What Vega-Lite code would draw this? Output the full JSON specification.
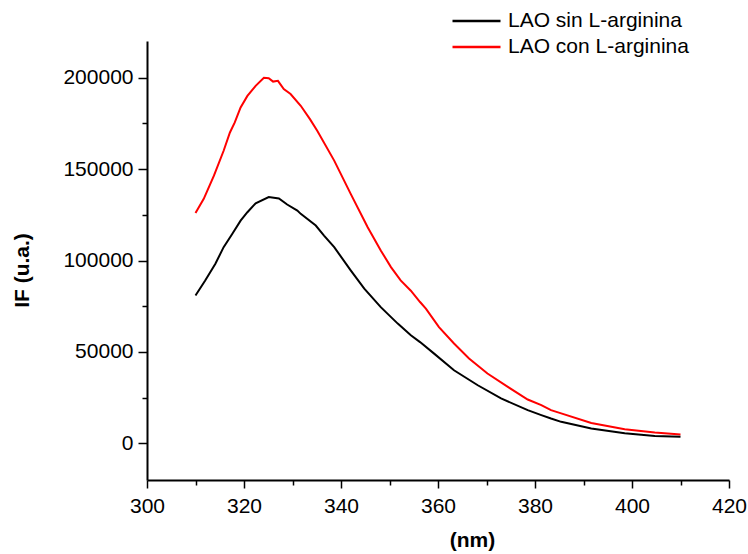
{
  "$schema": "https://vega.github.io/schema/vega-lite/v6.json",
  "width": 582,
  "height": 439,
  "autosize": "none",
  "padding": {"left": 147, "top": 41, "right": 19, "bottom": 74},
  "background": "white",
  "config": {
    "view": {"stroke": null},
    "font": "Liberation Sans",
    "axis": {"grid": false, "domainColor": "black", "tickColor": "black", "labelColor": "black", "titleColor": "black", "labelFont": "Liberation Sans", "titleFont": "Liberation Sans"}
  },
  "data": {"values": [
    {"nm": 310.0, "IF": 126000, "serie": "LAO con L-arginina"},
    {"nm": 311.7, "IF": 133700, "serie": "LAO con L-arginina"},
    {"nm": 313.8, "IF": 146400, "serie": "LAO con L-arginina"},
    {"nm": 315.8, "IF": 160000, "serie": "LAO con L-arginina"},
    {"nm": 317.1, "IF": 170000, "serie": "LAO con L-arginina"},
    {"nm": 318.1, "IF": 175500, "serie": "LAO con L-arginina"},
    {"nm": 319.3, "IF": 183700, "serie": "LAO con L-arginina"},
    {"nm": 320.7, "IF": 190000, "serie": "LAO con L-arginina"},
    {"nm": 322.4, "IF": 195500, "serie": "LAO con L-arginina"},
    {"nm": 324.1, "IF": 199900, "serie": "LAO con L-arginina"},
    {"nm": 325.1, "IF": 199700, "serie": "LAO con L-arginina"},
    {"nm": 326.0, "IF": 197800, "serie": "LAO con L-arginina"},
    {"nm": 327.0, "IF": 198200, "serie": "LAO con L-arginina"},
    {"nm": 328.2, "IF": 193700, "serie": "LAO con L-arginina"},
    {"nm": 329.6, "IF": 191000, "serie": "LAO con L-arginina"},
    {"nm": 331.7, "IF": 184600, "serie": "LAO con L-arginina"},
    {"nm": 333.6, "IF": 177300, "serie": "LAO con L-arginina"},
    {"nm": 335.1, "IF": 170900, "serie": "LAO con L-arginina"},
    {"nm": 338.6, "IF": 154600, "serie": "LAO con L-arginina"},
    {"nm": 342.0, "IF": 136400, "serie": "LAO con L-arginina"},
    {"nm": 345.5, "IF": 118200, "serie": "LAO con L-arginina"},
    {"nm": 348.2, "IF": 105500, "serie": "LAO con L-arginina"},
    {"nm": 350.3, "IF": 96400, "serie": "LAO con L-arginina"},
    {"nm": 352.3, "IF": 89100, "serie": "LAO con L-arginina"},
    {"nm": 354.4, "IF": 83500, "serie": "LAO con L-arginina"},
    {"nm": 356.3, "IF": 77300, "serie": "LAO con L-arginina"},
    {"nm": 357.5, "IF": 73700, "serie": "LAO con L-arginina"},
    {"nm": 360.2, "IF": 63600, "serie": "LAO con L-arginina"},
    {"nm": 363.3, "IF": 54600, "serie": "LAO con L-arginina"},
    {"nm": 366.4, "IF": 46400, "serie": "LAO con L-arginina"},
    {"nm": 370.2, "IF": 38200, "serie": "LAO con L-arginina"},
    {"nm": 374.4, "IF": 30900, "serie": "LAO con L-arginina"},
    {"nm": 378.5, "IF": 24000, "serie": "LAO con L-arginina"},
    {"nm": 381.3, "IF": 20900, "serie": "LAO con L-arginina"},
    {"nm": 383.3, "IF": 18200, "serie": "LAO con L-arginina"},
    {"nm": 385.4, "IF": 16400, "serie": "LAO con L-arginina"},
    {"nm": 391.6, "IF": 11200, "serie": "LAO con L-arginina"},
    {"nm": 398.5, "IF": 7800, "serie": "LAO con L-arginina"},
    {"nm": 404.7, "IF": 6000, "serie": "LAO con L-arginina"},
    {"nm": 410.0, "IF": 4900, "serie": "LAO con L-arginina"},
    {"nm": 310.0, "IF": 80900, "serie": "LAO sin L-arginina"},
    {"nm": 312.0, "IF": 89100, "serie": "LAO sin L-arginina"},
    {"nm": 314.1, "IF": 98200, "serie": "LAO sin L-arginina"},
    {"nm": 315.8, "IF": 107300, "serie": "LAO sin L-arginina"},
    {"nm": 317.6, "IF": 114600, "serie": "LAO sin L-arginina"},
    {"nm": 319.3, "IF": 121800, "serie": "LAO sin L-arginina"},
    {"nm": 320.7, "IF": 126400, "serie": "LAO sin L-arginina"},
    {"nm": 322.4, "IF": 131300, "serie": "LAO sin L-arginina"},
    {"nm": 325.1, "IF": 134700, "serie": "LAO sin L-arginina"},
    {"nm": 327.2, "IF": 133900, "serie": "LAO sin L-arginina"},
    {"nm": 328.9, "IF": 130600, "serie": "LAO sin L-arginina"},
    {"nm": 331.0, "IF": 127300, "serie": "LAO sin L-arginina"},
    {"nm": 331.7, "IF": 125500, "serie": "LAO sin L-arginina"},
    {"nm": 334.8, "IF": 119100, "serie": "LAO sin L-arginina"},
    {"nm": 336.5, "IF": 113600, "serie": "LAO sin L-arginina"},
    {"nm": 338.6, "IF": 107300, "serie": "LAO sin L-arginina"},
    {"nm": 342.0, "IF": 94600, "serie": "LAO sin L-arginina"},
    {"nm": 344.8, "IF": 84600, "serie": "LAO sin L-arginina"},
    {"nm": 348.2, "IF": 74500, "serie": "LAO sin L-arginina"},
    {"nm": 351.7, "IF": 65500, "serie": "LAO sin L-arginina"},
    {"nm": 354.4, "IF": 59100, "serie": "LAO sin L-arginina"},
    {"nm": 356.3, "IF": 55400, "serie": "LAO sin L-arginina"},
    {"nm": 359.2, "IF": 49100, "serie": "LAO sin L-arginina"},
    {"nm": 363.3, "IF": 40000, "serie": "LAO sin L-arginina"},
    {"nm": 368.2, "IF": 31800, "serie": "LAO sin L-arginina"},
    {"nm": 373.0, "IF": 24600, "serie": "LAO sin L-arginina"},
    {"nm": 378.5, "IF": 18200, "serie": "LAO sin L-arginina"},
    {"nm": 381.3, "IF": 15500, "serie": "LAO sin L-arginina"},
    {"nm": 383.3, "IF": 13600, "serie": "LAO sin L-arginina"},
    {"nm": 385.4, "IF": 11800, "serie": "LAO sin L-arginina"},
    {"nm": 391.6, "IF": 8200, "serie": "LAO sin L-arginina"},
    {"nm": 398.5, "IF": 5500, "serie": "LAO sin L-arginina"},
    {"nm": 404.7, "IF": 4100, "serie": "LAO sin L-arginina"},
    {"nm": 410.0, "IF": 3600, "serie": "LAO sin L-arginina"}
  ]},
  "layer": [
    {
      "mark": {"type": "point", "opacity": 0},
      "encoding": {
        "x": {"field": "nm", "type": "quantitative", "scale": {"domain": [300, 420], "nice": false, "zero": false},
          "axis": {"orient": "bottom", "values": [310, 330, 350, 370, 390, 410], "labels": false, "domain": false, "tickSize": 5, "tickWidth": 1.5, "title": null}},
        "y": {"field": "IF", "type": "quantitative", "scale": {"domain": [-20000, 220000], "nice": false, "zero": false},
          "axis": {"orient": "left", "values": [25000, 75000, 125000, 175000], "labels": false, "domain": false, "tickSize": 5, "tickWidth": 1.5, "title": null}}
      }
    },
    {
      "mark": {"type": "line", "strokeWidth": 2},
      "encoding": {
        "x": {"field": "nm", "type": "quantitative", "scale": {"domain": [300, 420], "nice": false, "zero": false},
          "axis": {"orient": "bottom", "values": [300, 320, 340, 360, 380, 400, 420], "format": "d", "domainWidth": 2, "tickWidth": 1.5, "tickSize": 8, "labelPadding": 7, "labelFontSize": 21, "labelFlush": false,
            "title": "(nm)", "titleFontSize": 21, "titleFontWeight": "bold", "titleX": 325, "titleY": 66, "titleBaseline": "alphabetic", "titleAlign": "center"}},
        "y": {"field": "IF", "type": "quantitative", "scale": {"domain": [-20000, 220000], "nice": false, "zero": false},
          "axis": {"orient": "left", "values": [0, 50000, 100000, 150000, 200000], "format": "d", "domainWidth": 2, "tickWidth": 1.5, "tickSize": 9, "labelPadding": 5, "labelFontSize": 21, "labelFlush": false,
            "title": "IF (u.a.)", "titleFontSize": 21, "titleFontWeight": "bold", "titleX": -119, "titleY": 229, "titleAngle": -90, "titleBaseline": "alphabetic", "titleAlign": "center"}},
        "color": {"field": "serie", "type": "nominal",
          "scale": {"domain": ["LAO sin L-arginina", "LAO con L-arginina"], "range": ["black", "#ff0000"]},
          "legend": {"title": null, "orient": "none", "legendX": 304, "legendY": -33, "symbolType": "stroke", "symbolSize": 2304, "symbolStrokeWidth": 2.5, "labelFontSize": 21, "labelLimit": 0, "labelColor": "black", "labelOffset": 6, "rowPadding": 0, "clipHeight": 26, "padding": 0}}
      }
    }
  ],
  "resolve": {"axis": {"x": "independent", "y": "independent"}}
}
